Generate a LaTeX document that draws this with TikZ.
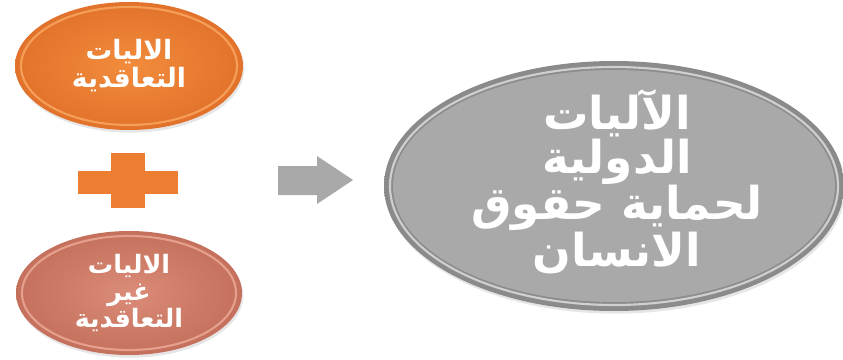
\documentclass[tikz,border=0pt]{standalone}
\usepackage{fontspec}
\TeXXeTstate=1
\newfontfamily\arabicfont[Script=Arabic]{DejaVu Sans}
\usetikzlibrary{shapes.geometric,shadows}
\definecolor{orangemain}{HTML}{F28C3C}
\definecolor{orangedark}{HTML}{E2722B}
\definecolor{orangelight}{HTML}{F8A660}
\definecolor{salmonmain}{HTML}{DB8C78}
\definecolor{salmondark}{HTML}{C4705C}
\definecolor{salmonlight}{HTML}{EBA896}
\definecolor{plusorange}{HTML}{ED7D31}
\definecolor{graymain}{HTML}{A9A9A9}
\definecolor{graydark}{HTML}{8A8A8A}
\definecolor{graylight}{HTML}{DCDCDC}
\newcommand{\ar}[1]{\beginR #1\endR}
\tikzset{
  disc/.style={ellipse, inner sep=0pt, drop shadow={opacity=0.2, shadow xshift=1pt, shadow yshift=-2pt}},
  rimline/.style={line width=1.6pt, draw opacity=0.85},
  disctext/.style={text=white, align=center, inner sep=0pt},
}
\begin{document}
\begin{tikzpicture}[x=0.75pt,y=-0.75pt]
\useasboundingbox (0,0) rectangle (843,360);

% upper contractual ellipse
\node[disc, minimum width=228*0.75pt, minimum height=128*0.75pt,
      outer color=orangedark, inner color=orangemain] (treaty) at (129,66) {};
\draw[rimline, orangelight] (129,66) ellipse (108 and 59);
\node[disctext, font=\arabicfont\bfseries\fontsize{20}{21}\selectfont] (treatytxt) at (129,66)
  {\ar{الاليات}\\\ar{التعاقدية}};

% plus sign
\fill[plusorange] (111,153) rectangle (145,208);
\fill[plusorange] (78,171) rectangle (178,194);
\coordinate (plus) at (128,180);

% lower non-contractual ellipse
\node[disc, minimum width=226*0.75pt, minimum height=124*0.75pt,
      outer color=salmondark, inner color=salmonmain] (nontreaty) at (129,293) {};
\draw[rimline, salmonlight] (129,293) ellipse (107 and 57);
\node[disctext, font=\arabicfont\bfseries\fontsize{19}{20}\selectfont] (nontreatytxt) at (129,293)
  {\ar{الاليات}\\\ar{غير}\\\ar{التعاقدية}};

% block arrow
\fill[graymain] (278,166) -- (317,166) -- (317,156) -- (353,180) -- (317,204)
  -- (317,195) -- (278,195) -- cycle;
\coordinate (arrowtip) at (353,180);

% large grey ellipse
\node[disc, minimum width=460*0.75pt, minimum height=250*0.75pt,
      outer color=graydark, inner color=graymain] (intl) at (614,186) {};
\draw[rimline, graylight] (614,186) ellipse (224 and 119);
\fill[graymain] (614,186) ellipse (221 and 116);
\node[disctext, font=\arabicfont\bfseries\fontsize{34}{31}\selectfont] (intltxt) at (617,182)
  {\ar{الآليات}\\\ar{الدولية}\\\ar{لحماية حقوق}\\\ar{الانسان}};
\end{tikzpicture}
\end{document}
